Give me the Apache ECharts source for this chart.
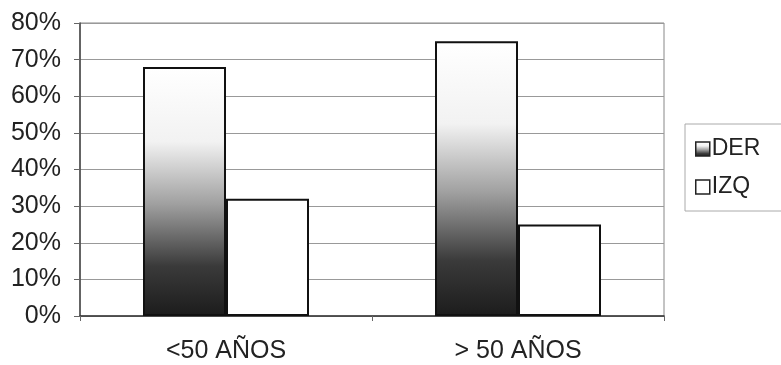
<!DOCTYPE html>
<html><head><meta charset="utf-8">
<script src="https://cdn.jsdelivr.net/npm/echarts@6/dist/echarts.min.js"></script>
<style>html,body{margin:0;padding:0;background:#fff}#c{width:781px;height:365px}</style>
</head><body><div id="c"></div>
<script>
var categories = ['<50 AÑOS', '> 50 AÑOS'];
var derValues = [68, 75];
var izqValues = [32, 25];
var yTicks = [0, 10, 20, 30, 40, 50, 60, 70, 80];

var chart = echarts.init(document.getElementById('c'));
var grad = new echarts.graphic.LinearGradient(0, 0, 0, 1, [
  {offset: 0, color: '#ffffff'},
  {offset: 0.3, color: '#f2f2f2'},
  {offset: 0.55, color: '#a0a0a0'},
  {offset: 0.8, color: '#3a3a3a'},
  {offset: 1, color: '#1c1c1c'}
]);
var font = 'Liberation Sans, Arial, sans-serif';
chart.setOption({
  animation: false,
  grid: {left: 80, right: 117, top: 23, bottom: 49, show: true, borderColor: '#888', borderWidth: 1},
  legend: {
    left: 685, top: 124, orient: 'vertical', icon: 'rect', itemWidth: 14, itemHeight: 14, itemGap: 14,
    padding: [13, 45, 12, 10], borderColor: '#aaa', borderWidth: 1,
    textStyle: {fontFamily: font, fontSize: 23, lineHeight: 24, color: '#222', padding: [0, 0, 0, -3]},
    data: [
      {name: 'DER', itemStyle: {color: grad, borderColor: '#222', borderWidth: 1.5}},
      {name: 'IZQ', itemStyle: {color: '#fff', borderColor: '#222', borderWidth: 1.5}}
    ]
  },
  xAxis: {
    type: 'category', data: categories,
    axisLine: {lineStyle: {color: '#333', width: 1.5}},
    axisTick: {show: true, alignWithLabel: false, length: 5, lineStyle: {color: '#666'}},
    axisLabel: {fontFamily: font, fontSize: 25, color: '#222', margin: 23}
  },
  yAxis: {
    type: 'value', min: yTicks[0], max: yTicks[yTicks.length - 1], interval: 10,
    axisLine: {show: true, lineStyle: {color: '#444', width: 1.5}},
    axisTick: {show: true, length: 6, lineStyle: {color: '#666'}},
    axisLabel: {fontFamily: font, fontSize: 25, color: '#222', margin: 19, formatter: '{value}%'},
    splitLine: {lineStyle: {color: '#999', width: 1}}
  },
  series: [
    {name: 'DER', type: 'bar', data: derValues, barWidth: 83, barGap: '0%',
     itemStyle: {color: grad, borderColor: '#111', borderWidth: 2}},
    {name: 'IZQ', type: 'bar', data: izqValues, barWidth: 83,
     itemStyle: {color: '#fff', borderColor: '#111', borderWidth: 2}}
  ]
});
</script></body></html>
